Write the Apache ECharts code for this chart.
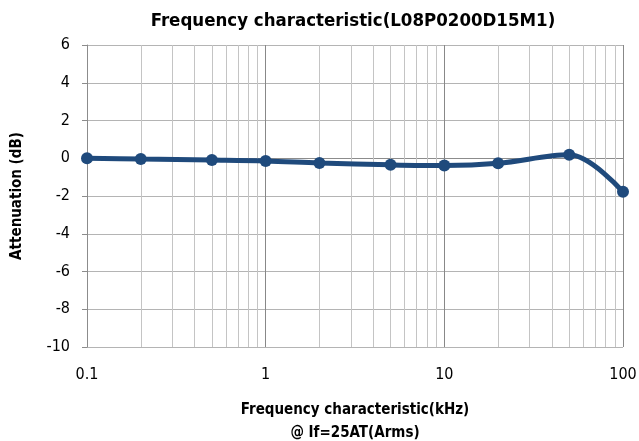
<!DOCTYPE html>
<html><head><meta charset="utf-8">
<script src="https://cdn.jsdelivr.net/npm/echarts@6/dist/echarts.min.js"></script>
<style>html,body{margin:0;padding:0;background:#fff}#c{width:639px;height:441px}</style>
</head><body><div id="c"></div>
<script>
var freqKHz = [0.1, 0.2, 0.5, 1, 2, 5, 10, 20, 50, 100];
var attenuationDb = [0, -0.04, -0.09, -0.14, -0.25, -0.35, -0.39, -0.27, 0.18, -1.78];
var xTickLabels = [0.1, 1, 10, 100];
var minorGridX = [0.2,0.3,0.4,0.5,0.6,0.7,0.8,0.9,2,3,4,5,6,7,8,9,20,30,40,50,60,70,80,90];
var titleText = 'Frequency characteristic(L08P0200D15M1)';
var xName = 'Frequency characteristic(kHz)\n@ If=25AT(Arms)';
var yName = 'Attenuation (dB)';

var FONT = "'Liberation Sans Narrow','DejaVu Sans Condensed','Liberation Sans',sans-serif";
var chart = echarts.init(document.getElementById('c'), null, {renderer: 'canvas'});
var pts = freqKHz.map(function (f, i) { return [f, attenuationDb[i]]; });
chart.setOption({
  animation: false,
  backgroundColor: '#fff',
  title: {
    text: titleText, left: 348, top: 7, textAlign: 'center',
    textStyle: {fontFamily: FONT, fontSize: 18.5, fontWeight: 'bold', color: '#000'}
  },
  grid: {left: 87, right: 16, top: 45, bottom: 94, containLabel: false, outerBoundsMode: 'none'},
  xAxis: {
    type: 'log', logBase: 10, min: 0.1, max: 100,
    name: xName, nameLocation: 'middle', nameGap: 52,
    nameTextStyle: {fontFamily: FONT, fontSize: 15, fontWeight: 'bold', color: '#000', lineHeight: 23},
    axisLine: {show: true, lineStyle: {color: '#8C8C8C', width: 1}},
    axisTick: {show: true, length: 5, lineStyle: {color: '#8C8C8C'}},
    axisLabel: {margin: 20, fontFamily: FONT, fontSize: 16, color: '#000',
      formatter: function (v) { var r = Math.round(v * 1000) / 1000; return xTickLabels.indexOf(r) >= 0 ? String(r) : ''; }},
    splitLine: {show: true, lineStyle: {color: '#888888', width: 1}}
  },
  yAxis: {
    type: 'value', min: -10, max: 6, interval: 2,
    name: yName, nameLocation: 'middle', nameGap: 62, nameRotate: 90,
    nameTextStyle: {fontFamily: FONT, fontSize: 15, fontWeight: 'bold', color: '#000'},
    axisLine: {show: true, lineStyle: {color: '#8C8C8C'}},
    axisTick: {show: true, length: 5, lineStyle: {color: '#8C8C8C'}},
    axisLabel: {margin: 17, fontFamily: FONT, fontSize: 16, color: '#000'},
    splitLine: {show: true, lineStyle: {color: '#B4B4B4', width: 1}}
  },
  series: [{
    type: 'line', data: pts, smooth: 0.35,
    symbol: 'circle', symbolSize: 12,
    lineStyle: {color: '#1F4A7C', width: 5},
    itemStyle: {color: '#1F4A7C'},
    z: 5,
    markLine: {
      silent: true, symbol: 'none', label: {show: false},
      lineStyle: {color: '#C4C4C4', type: 'solid', width: 1},
      data: minorGridX.map(function (v) { return {xAxis: v}; }),
      z: 1
    }
  }]
});
</script></body></html>
